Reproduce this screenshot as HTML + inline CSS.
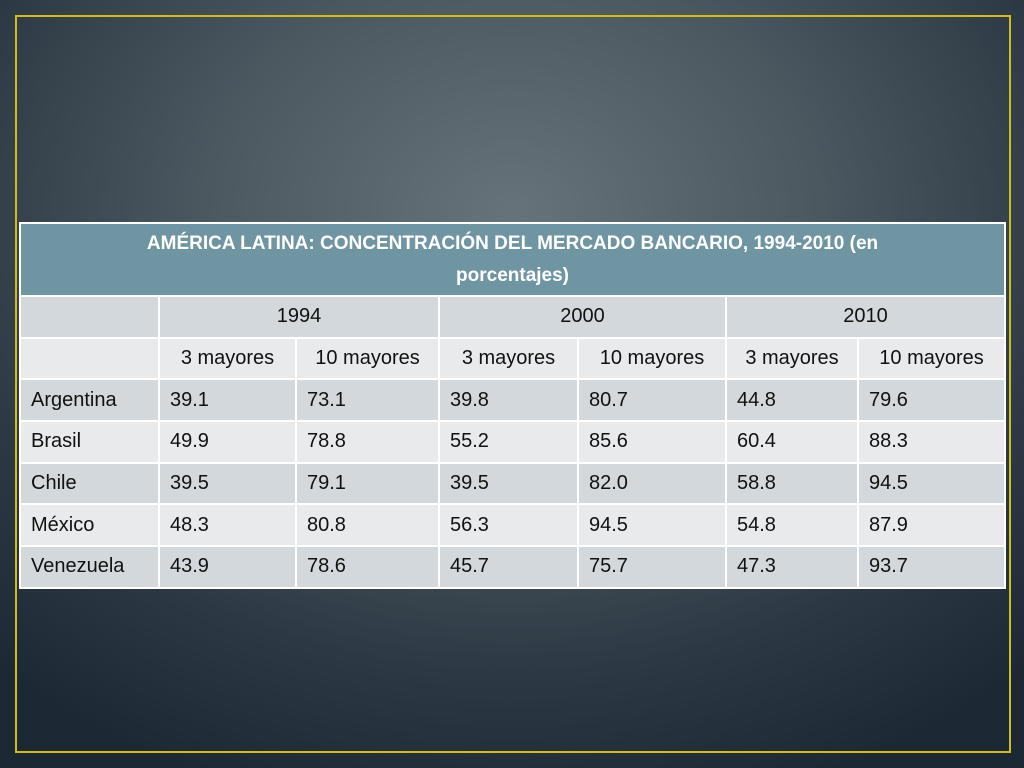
<!DOCTYPE html>
<html><head><meta charset="utf-8"><style>
html,body{margin:0;padding:0;}
body{width:1024px;height:768px;overflow:hidden;position:relative;
background:radial-gradient(ellipse 75% 80% at 50% 28%,#67737a 0%,#4c5860 40%,#2c3843 75%,#1c2833 100%);
font-family:"Liberation Sans",sans-serif;}
#frame{position:absolute;left:15px;top:15px;width:992px;height:734px;border:2px solid #d2bc1c;box-sizing:content-box;}
table{position:absolute;left:19px;top:222px;width:985px;border-collapse:collapse;table-layout:fixed;}
td{border:2px solid #fff;font-size:20px;color:#111;height:41.7px;padding:0 10px;box-sizing:border-box;}
tr.title td{background:#6f95a3;color:#fff;font-weight:bold;text-align:center;height:73px;font-size:19px;line-height:32px;}
tr.odd td{background:#d2d8db;}
tr.even td{background:#e8eaeb;}
td.c{text-align:center;}
</style></head><body>
<div id="frame"></div>
<table>
<colgroup><col style="width:139px"><col style="width:137px"><col style="width:143px"><col style="width:139px"><col style="width:148px"><col style="width:132px"><col style="width:147px"></colgroup>
<tr class="title"><td colspan="7">AMÉRICA LATINA: CONCENTRACIÓN DEL MERCADO BANCARIO, 1994-2010 (en<br>porcentajes)</td></tr>
<tr class="odd"><td></td><td colspan="2" class="c">1994</td><td colspan="2" class="c">2000</td><td colspan="2" class="c">2010</td></tr>
<tr class="even"><td></td><td class="c">3 mayores</td><td class="c">10 mayores</td><td class="c">3 mayores</td><td class="c">10 mayores</td><td class="c">3 mayores</td><td class="c">10 mayores</td></tr>
<tr class="odd"><td>Argentina</td><td>39.1</td><td>73.1</td><td>39.8</td><td>80.7</td><td>44.8</td><td>79.6</td></tr>
<tr class="even"><td>Brasil</td><td>49.9</td><td>78.8</td><td>55.2</td><td>85.6</td><td>60.4</td><td>88.3</td></tr>
<tr class="odd"><td>Chile</td><td>39.5</td><td>79.1</td><td>39.5</td><td>82.0</td><td>58.8</td><td>94.5</td></tr>
<tr class="even"><td>México</td><td>48.3</td><td>80.8</td><td>56.3</td><td>94.5</td><td>54.8</td><td>87.9</td></tr>
<tr class="odd"><td>Venezuela</td><td>43.9</td><td>78.6</td><td>45.7</td><td>75.7</td><td>47.3</td><td>93.7</td></tr>
</table>
</body></html>
